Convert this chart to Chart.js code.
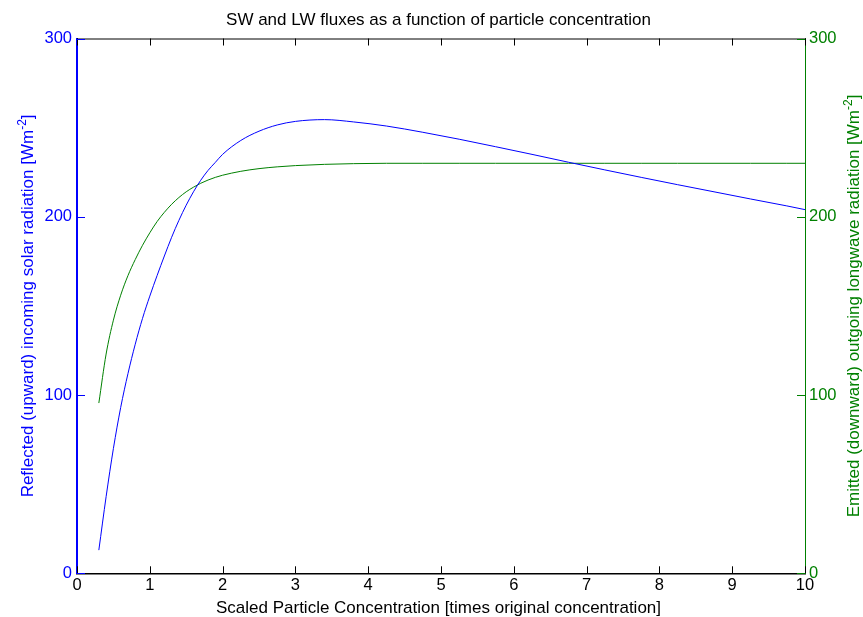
<!DOCTYPE html>
<html>
<head>
<meta charset="utf-8">
<script src="https://cdn.jsdelivr.net/npm/chart.js@4"></script>
<style>
  html, body { margin: 0; padding: 0; background: #fff; }
  canvas { display: block; }
</style>
</head>
<body>
<canvas id="myChart" width="863" height="617"></canvas>
<script>
// data
const xVals = [0.3, 0.4, 0.5, 0.6, 0.7, 0.8, 0.9, 1.0, 1.1, 1.2, 1.3, 1.4, 1.5, 1.6, 1.7, 1.8, 1.9, 2.0, 2.25, 2.5, 2.75, 3.0, 3.4, 3.8, 4.25, 4.75, 5.25, 5.75, 6.25, 6.75, 7.25, 7.75, 8.25, 8.75, 9.25, 9.75, 10];
const swVals = [13, 43, 70, 93, 112, 128.5, 143, 155.5, 167, 178, 188.5, 198, 206.5, 214, 220.5, 226, 230.5, 235, 242.8, 248, 251.5, 253.5, 254.5, 253.2, 250.9, 247.4, 243.5, 239.3, 235, 230.6, 226.3, 222.1, 218, 214, 210, 206.1, 204];
const lwVals = [95.5, 123, 142, 156, 167, 176, 184, 191, 197.3, 202.5, 207, 210.8, 214, 216.6, 218.8, 220.6, 222.1, 223.3, 225.5, 227, 228, 228.7, 229.4, 229.8, 230, 230, 230, 230, 230, 230, 230, 230, 230, 230, 230, 230, 230];
const xTicks = [0, 1, 2, 3, 4, 5, 6, 7, 8, 9, 10];
const yTicks = [0, 100, 200, 300];

const titleText = "SW and LW fluxes as a function of particle concentration";
const xTitle = "Scaled Particle Concentration [times original concentration]";
const yTitle = "Reflected (upward) incoming solar radiation [Wm";
const y2Title = "Emitted (downward) outgoing longwave radiation [Wm";

const FONT = '"Liberation Sans", Arial, Helvetica, sans-serif';
const BLUE = "#0000ff";
const GREEN = "#008000";

// label with superscript -2 at the end, drawn rotated
function drawUnitLabel(ctx, text, x, y, color) {
  ctx.save();
  ctx.translate(x, y);
  ctx.rotate(-Math.PI / 2);
  ctx.fillStyle = color;
  ctx.textBaseline = "alphabetic";
  ctx.font = "17px " + FONT;
  const w1 = ctx.measureText(text).width;
  ctx.font = "12px " + FONT;
  const w2 = ctx.measureText("-2").width;
  ctx.font = "17px " + FONT;
  const w3 = ctx.measureText("]").width;
  let start = -(w1 + w2 + w3) / 2;
  ctx.textAlign = "left";
  ctx.fillText(text, start, 0);
  ctx.font = "12px " + FONT;
  ctx.fillText("-2", start + w1, -7);
  ctx.font = "17px " + FONT;
  ctx.fillText("]", start + w1 + w2, 0);
  ctx.restore();
}

const matlabAxes = {
  id: "matlabAxes",
  afterDraw(chart) {
    const ctx = chart.ctx;
    const a = chart.chartArea;
    const sx = chart.scales.x, sy = chart.scales.y, sy2 = chart.scales.y2;
    ctx.save();
    // top box line
    ctx.strokeStyle = "#000";
    ctx.lineWidth = 1;
    ctx.beginPath();
    ctx.moveTo(a.left, a.top + 0.5);
    ctx.lineTo(a.right, a.top + 0.5);
    ctx.stroke();
    // inward ticks on x (bottom and top)
    xTicks.forEach(v => {
      const px = Math.round(sx.getPixelForValue(v)) + 0.5;
      ctx.beginPath();
      ctx.moveTo(px, a.bottom);
      ctx.lineTo(px, a.bottom - 7);
      ctx.moveTo(px, a.top);
      ctx.lineTo(px, a.top + 7);
      ctx.stroke();
    });
    // left ticks
    ctx.strokeStyle = BLUE;
    yTicks.forEach(v => {
      const py = Math.round(sy.getPixelForValue(v)) + 0.5;
      ctx.beginPath();
      ctx.moveTo(a.left, py);
      ctx.lineTo(a.left + 8, py);
      ctx.stroke();
    });
    // right ticks
    ctx.strokeStyle = GREEN;
    yTicks.forEach(v => {
      const py = Math.round(sy2.getPixelForValue(v)) + 0.5;
      ctx.beginPath();
      ctx.moveTo(a.right, py);
      ctx.lineTo(a.right - 8, py);
      ctx.stroke();
    });
    // titles
    ctx.fillStyle = "#000";
    ctx.font = "17px " + FONT;
    ctx.textAlign = "center";
    ctx.textBaseline = "alphabetic";
    ctx.fillText(titleText, 438.5, 25);
    ctx.fillText(xTitle, 438.5, 613);
    ctx.restore();
    const midY = (a.top + a.bottom) / 2;
    drawUnitLabel(ctx, yTitle, 33, midY, BLUE);
    drawUnitLabel(ctx, y2Title, 859, midY, GREEN);
  }
};

const ctx = document.getElementById("myChart");
const myChart = new Chart(ctx, {
  type: "line",
  data: {
    datasets: [
      {
        label: "SW",
        data: xVals.map((x, i) => ({ x: x, y: swVals[i] })),
        borderColor: BLUE,
        borderWidth: 1,
        pointRadius: 0,
        cubicInterpolationMode: "monotone",
        yAxisID: "y",
      },
      {
        label: "LW",
        data: xVals.map((x, i) => ({ x: x, y: lwVals[i] })),
        borderColor: GREEN,
        borderWidth: 1,
        pointRadius: 0,
        cubicInterpolationMode: "monotone",
        yAxisID: "y2",
      },
    ],
  },
  options: {
    responsive: false,
    animation: false,
    devicePixelRatio: 1,
    layout: { padding: { top: 38.5, left: 0, right: 0, bottom: 0 } },
    plugins: { legend: { display: false }, tooltip: { enabled: false }, title: { display: false } },
    scales: {
      x: {
        type: "linear",
        min: 0,
        max: 10,
        afterBuildTicks: s => { s.ticks = xTicks.map(v => ({ value: v })); },
        afterFit: s => { s.height = 43.7; },
        ticks: { color: "#000", font: { family: FONT, size: 16.5 }, padding: 2, maxRotation: 0 },
        grid: { drawOnChartArea: false, drawTicks: false },
        border: { color: "#000", width: 1.5 },
      },
      y: {
        position: "left",
        min: 0,
        max: 300,
        afterBuildTicks: s => { s.ticks = yTicks.map(v => ({ value: v })); },
        afterFit: s => { s.width = 77; },
        ticks: { color: BLUE, font: { family: FONT, size: 16.5 }, padding: 5 },
        grid: { drawOnChartArea: false, drawTicks: false },
        border: { color: BLUE, width: 2 },
      },
      y2: {
        position: "right",
        min: 0,
        max: 300,
        afterBuildTicks: s => { s.ticks = yTicks.map(v => ({ value: v })); },
        afterFit: s => { s.width = 58; },
        ticks: { color: GREEN, font: { family: FONT, size: 16.5 }, padding: 4 },
        grid: { drawOnChartArea: false, drawTicks: false },
        border: { color: GREEN, width: 1 },
      },
    },
  },
  plugins: [matlabAxes],
});
</script>
</body>
</html>
